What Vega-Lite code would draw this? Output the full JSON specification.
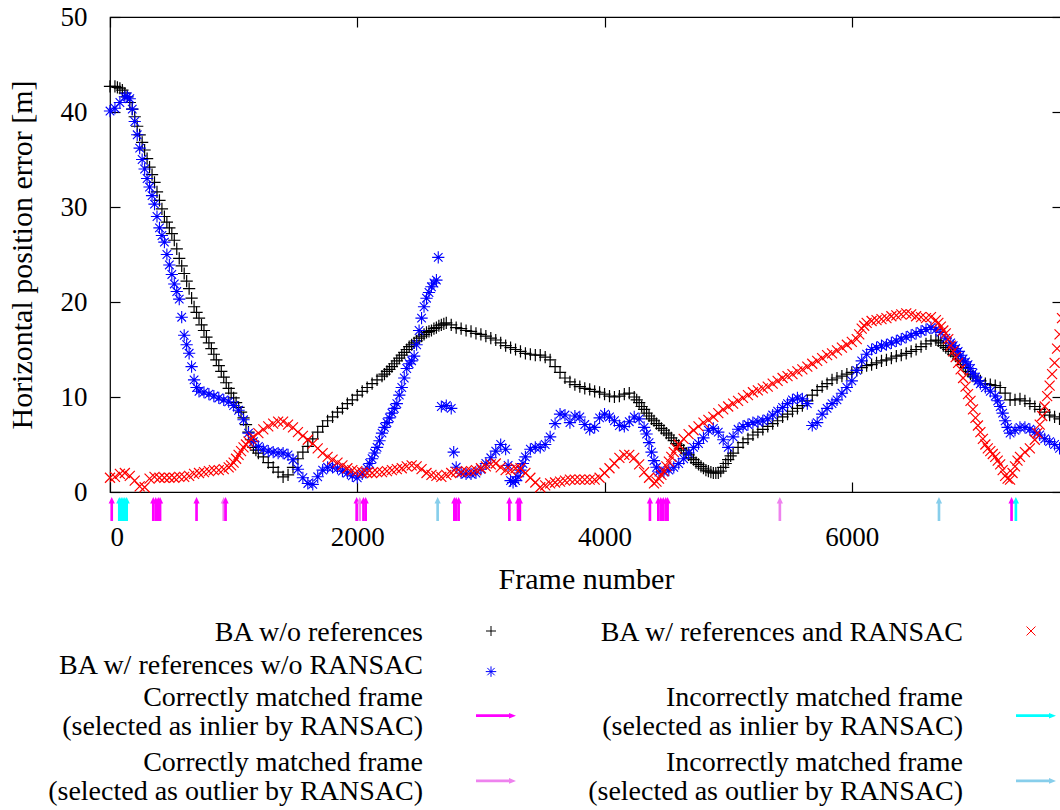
{
"$schema": "https://vega.github.io/schema/vega-lite/v6.json",
"autosize": {"type": "none"},
"padding": {"left": 110, "top": 17, "right": 0, "bottom": 318},
"width": 952,
"height": 475,
"background": "white",
"config": {
  "font": "Liberation Serif",
  "view": {"stroke": "black", "strokeWidth": 1.2},
  "axis": {"labelFont": "Liberation Serif", "titleFont": "Liberation Serif", "labelColor": "black", "titleColor": "black", "tickColor": "black", "domain": false, "grid": false, "labelFontSize": 27, "titleFontSize": 30, "titleFontWeight": "normal", "tickSize": -10, "tickWidth": 1.2}
},
"datasets": {
"black": [
{"frame":0,"error":42.7},{"frame":40,"error":42.7},{"frame":80,"error":42.5},{"frame":120,"error":42.0},{"frame":160,"error":41.0},{"frame":200,"error":39.5},{"frame":240,"error":37.6},{"frame":280,"error":36.0},{"frame":320,"error":34.2},{"frame":360,"error":32.6},{"frame":400,"error":30.7},{"frame":440,"error":29.0},{"frame":480,"error":27.8},{"frame":520,"error":26.5},{"frame":560,"error":24.6},{"frame":600,"error":23.0},{"frame":640,"error":21.4},{"frame":680,"error":19.5},{"frame":720,"error":18.3},{"frame":760,"error":17.0},{"frame":800,"error":15.7},{"frame":840,"error":14.5},{"frame":880,"error":13.3},{"frame":920,"error":12.1},{"frame":960,"error":10.9},{"frame":1000,"error":9.9},{"frame":1040,"error":8.9},{"frame":1080,"error":7.8},{"frame":1120,"error":6.3},{"frame":1160,"error":4.7},{"frame":1200,"error":4.1},{"frame":1240,"error":3.7},{"frame":1280,"error":3.1},{"frame":1320,"error":2.6},{"frame":1360,"error":2.1},{"frame":1400,"error":1.6},{"frame":1440,"error":1.8},{"frame":1480,"error":2.6},{"frame":1520,"error":3.5},{"frame":1560,"error":4.2},{"frame":1600,"error":4.8},{"frame":1640,"error":5.6},{"frame":1680,"error":6.3},{"frame":1720,"error":6.9},{"frame":1760,"error":7.5},{"frame":1800,"error":7.9},{"frame":1840,"error":8.4},{"frame":1880,"error":8.8},{"frame":1920,"error":9.3},{"frame":1960,"error":9.7},{"frame":2000,"error":10.2},{"frame":2040,"error":10.6},{"frame":2080,"error":11.0},{"frame":2120,"error":11.4},{"frame":2160,"error":11.8},{"frame":2200,"error":12.2},{"frame":2240,"error":12.7},{"frame":2280,"error":13.2},{"frame":2320,"error":13.8},{"frame":2360,"error":14.4},{"frame":2400,"error":15.0},{"frame":2440,"error":15.5},{"frame":2480,"error":15.9},{"frame":2520,"error":16.4},{"frame":2560,"error":16.8},{"frame":2600,"error":17.0},{"frame":2640,"error":17.3},{"frame":2680,"error":17.6},{"frame":2720,"error":17.8},{"frame":2760,"error":17.6},{"frame":2800,"error":17.3},{"frame":2840,"error":17.2},{"frame":2880,"error":17.0},{"frame":2920,"error":16.9},{"frame":2960,"error":16.7},{"frame":3000,"error":16.6},{"frame":3040,"error":16.4},{"frame":3080,"error":16.2},{"frame":3120,"error":16.0},{"frame":3160,"error":15.7},{"frame":3200,"error":15.4},{"frame":3240,"error":15.2},{"frame":3280,"error":15.0},{"frame":3320,"error":14.8},{"frame":3360,"error":14.6},{"frame":3400,"error":14.5},{"frame":3440,"error":14.4},{"frame":3480,"error":14.4},{"frame":3520,"error":14.2},{"frame":3560,"error":13.9},{"frame":3600,"error":13.2},{"frame":3640,"error":12.6},{"frame":3680,"error":12.0},{"frame":3720,"error":11.6},{"frame":3760,"error":11.3},{"frame":3800,"error":11.1},{"frame":3840,"error":10.9},{"frame":3880,"error":10.8},{"frame":3920,"error":10.6},{"frame":3960,"error":10.5},{"frame":4000,"error":10.3},{"frame":4040,"error":10.1},{"frame":4080,"error":10.0},{"frame":4120,"error":10.1},{"frame":4160,"error":10.3},{"frame":4200,"error":10.4},{"frame":4240,"error":10.0},{"frame":4280,"error":9.4},{"frame":4320,"error":8.7},{"frame":4360,"error":8.0},{"frame":4400,"error":7.5},{"frame":4440,"error":7.0},{"frame":4480,"error":6.5},{"frame":4520,"error":6.0},{"frame":4560,"error":5.4},{"frame":4600,"error":4.9},{"frame":4640,"error":4.4},{"frame":4680,"error":3.9},{"frame":4720,"error":3.4},{"frame":4760,"error":2.9},{"frame":4800,"error":2.5},{"frame":4840,"error":2.2},{"frame":4880,"error":2.0},{"frame":4920,"error":2.0},{"frame":4960,"error":2.6},{"frame":5000,"error":3.4},{"frame":5040,"error":4.1},{"frame":5080,"error":4.7},{"frame":5120,"error":5.2},{"frame":5160,"error":5.6},{"frame":5200,"error":6.0},{"frame":5240,"error":6.3},{"frame":5280,"error":6.6},{"frame":5320,"error":6.9},{"frame":5360,"error":7.2},{"frame":5400,"error":7.5},{"frame":5440,"error":7.9},{"frame":5480,"error":8.2},{"frame":5520,"error":8.5},{"frame":5560,"error":8.8},{"frame":5600,"error":9.1},{"frame":5640,"error":9.6},{"frame":5680,"error":10.2},{"frame":5720,"error":10.7},{"frame":5760,"error":11.1},{"frame":5800,"error":11.4},{"frame":5840,"error":11.8},{"frame":5880,"error":12.0},{"frame":5920,"error":12.2},{"frame":5960,"error":12.4},{"frame":6000,"error":12.6},{"frame":6040,"error":12.8},{"frame":6080,"error":13.1},{"frame":6120,"error":13.3},{"frame":6160,"error":13.4},{"frame":6200,"error":13.6},{"frame":6240,"error":13.8},{"frame":6280,"error":13.9},{"frame":6320,"error":14.1},{"frame":6360,"error":14.3},{"frame":6400,"error":14.4},{"frame":6440,"error":14.6},{"frame":6480,"error":14.8},{"frame":6520,"error":15.0},{"frame":6560,"error":15.3},{"frame":6600,"error":15.6},{"frame":6640,"error":15.9},{"frame":6680,"error":16.0},{"frame":6720,"error":15.7},{"frame":6760,"error":15.2},{"frame":6800,"error":14.8},{"frame":6840,"error":14.3},{"frame":6880,"error":13.8},{"frame":6920,"error":13.1},{"frame":6960,"error":12.4},{"frame":7000,"error":12.0},{"frame":7040,"error":11.7},{"frame":7080,"error":11.4},{"frame":7120,"error":11.3},{"frame":7160,"error":11.2},{"frame":7200,"error":11.0},{"frame":7240,"error":10.4},{"frame":7280,"error":9.7},{"frame":7320,"error":9.7},{"frame":7360,"error":9.8},{"frame":7400,"error":9.6},{"frame":7440,"error":9.3},{"frame":7480,"error":9.0},{"frame":7520,"error":8.7},{"frame":7560,"error":8.4},{"frame":7600,"error":8.1},{"frame":7640,"error":7.9},{"frame":7680,"error":7.7},
{"frame":60,"error":42.6},{"frame":100,"error":42.3},{"frame":140,"error":41.6},{"frame":180,"error":40.3},{"frame":220,"error":38.5},{"frame":260,"error":36.8},{"frame":300,"error":35.1},{"frame":340,"error":33.4},{"frame":380,"error":31.6},{"frame":420,"error":29.8},{"frame":460,"error":28.4},{"frame":500,"error":27.2},{"frame":540,"error":25.6},{"frame":580,"error":23.8},{"frame":620,"error":22.2},{"frame":660,"error":20.4},{"frame":700,"error":18.9},{"frame":740,"error":17.6},{"frame":780,"error":16.3},{"frame":820,"error":15.1},{"frame":860,"error":13.9},{"frame":900,"error":12.7},{"frame":940,"error":11.5},{"frame":980,"error":10.4},{"frame":1020,"error":9.4},{"frame":1060,"error":8.4},{"frame":1100,"error":7.1},{"frame":1140,"error":5.5},{"frame":1180,"error":4.4},
{"frame":2220,"error":12.4},{"frame":2260,"error":12.9},{"frame":2300,"error":13.5},{"frame":2340,"error":14.1},{"frame":2380,"error":14.7},{"frame":2420,"error":15.3},{"frame":2460,"error":15.7},{"frame":2500,"error":16.2},{"frame":2540,"error":16.6},{"frame":2580,"error":16.9},{"frame":2620,"error":17.2},{"frame":2660,"error":17.5},{"frame":2700,"error":17.7},
{"frame":4260,"error":9.7},{"frame":4300,"error":9.0},{"frame":4340,"error":8.3},{"frame":4380,"error":7.7},{"frame":4420,"error":7.2},{"frame":4460,"error":6.7},{"frame":4500,"error":6.2},{"frame":4540,"error":5.7},{"frame":4580,"error":5.1},{"frame":4620,"error":4.6},{"frame":4660,"error":4.1},{"frame":4700,"error":3.6},{"frame":4740,"error":3.1},{"frame":4780,"error":2.7},{"frame":4820,"error":2.3},{"frame":4860,"error":2.1},{"frame":4900,"error":2.0},{"frame":4940,"error":2.2},{"frame":4980,"error":3.0},{"frame":5020,"error":3.8},
{"frame":6700,"error":15.9},{"frame":6740,"error":15.4},{"frame":6780,"error":15.0},{"frame":6820,"error":14.5},{"frame":6860,"error":14.0},{"frame":6900,"error":13.4},{"frame":6940,"error":12.7},{"frame":6980,"error":12.2}
],
"blue": [
{"frame":0,"error":40.1},{"frame":40,"error":40.4},{"frame":80,"error":41.0},{"frame":120,"error":41.6},{"frame":160,"error":41.4},{"frame":200,"error":39.0},{"frame":240,"error":36.2},{"frame":280,"error":34.0},{"frame":320,"error":32.1},{"frame":360,"error":30.3},{"frame":400,"error":27.8},{"frame":440,"error":26.3},{"frame":480,"error":23.9},{"frame":520,"error":21.9},{"frame":560,"error":20.3},{"frame":600,"error":16.5},{"frame":640,"error":14.6},{"frame":680,"error":11.8},{"frame":720,"error":10.6},{"frame":760,"error":10.5},{"frame":800,"error":10.3},{"frame":840,"error":10.1},{"frame":880,"error":9.9},{"frame":920,"error":9.7},{"frame":960,"error":9.5},{"frame":1000,"error":9.1},{"frame":1040,"error":8.6},{"frame":1080,"error":7.6},{"frame":1120,"error":6.2},{"frame":1160,"error":5.3},{"frame":1200,"error":4.8},{"frame":1240,"error":4.5},{"frame":1280,"error":4.3},{"frame":1320,"error":4.2},{"frame":1360,"error":4.1},{"frame":1400,"error":4.1},{"frame":1440,"error":3.9},{"frame":1480,"error":3.4},{"frame":1520,"error":2.4},{"frame":1560,"error":1.5},{"frame":1600,"error":0.9},{"frame":1640,"error":0.8},{"frame":1680,"error":1.6},{"frame":1720,"error":2.3},{"frame":1760,"error":2.6},{"frame":1800,"error":2.6},{"frame":1840,"error":2.5},{"frame":1880,"error":2.2},{"frame":1920,"error":2.0},{"frame":1960,"error":1.7},{"frame":2000,"error":1.5},{"frame":2040,"error":1.9},{"frame":2080,"error":2.5},{"frame":2120,"error":3.5},{"frame":2160,"error":4.7},{"frame":2200,"error":6.2},{"frame":2240,"error":7.3},{"frame":2280,"error":8.3},{"frame":2320,"error":9.3},{"frame":2360,"error":11.0},{"frame":2400,"error":13.0},{"frame":2440,"error":13.8},{"frame":2480,"error":15.5},{"frame":2520,"error":18.3},{"frame":2560,"error":20.4},{"frame":2600,"error":21.6},{"frame":2640,"error":22.3},{"frame":2655,"error":24.7},{"frame":2680,"error":9.0},{"frame":2720,"error":9.1},{"frame":2760,"error":8.8},{"frame":2780,"error":4.2},{"frame":2800,"error":2.6},{"frame":2840,"error":2.0},{"frame":2880,"error":1.9},{"frame":2920,"error":1.9},{"frame":2960,"error":2.0},{"frame":3000,"error":2.4},{"frame":3040,"error":3.0},{"frame":3080,"error":3.6},{"frame":3120,"error":4.3},{"frame":3160,"error":5.0},{"frame":3200,"error":4.5},{"frame":3240,"error":1.2},{"frame":3280,"error":1.2},{"frame":3320,"error":2.3},{"frame":3360,"error":3.7},{"frame":3400,"error":4.5},{"frame":3440,"error":4.7},{"frame":3480,"error":4.7},{"frame":3520,"error":5.0},{"frame":3560,"error":5.8},{"frame":3600,"error":7.2},{"frame":3640,"error":8.2},{"frame":3680,"error":8.1},{"frame":3720,"error":7.3},{"frame":3760,"error":8.0},{"frame":3800,"error":7.9},{"frame":3840,"error":7.1},{"frame":3880,"error":6.6},{"frame":3920,"error":6.8},{"frame":3960,"error":7.8},{"frame":4000,"error":8.2},{"frame":4040,"error":7.9},{"frame":4080,"error":7.5},{"frame":4120,"error":7.0},{"frame":4160,"error":6.9},{"frame":4200,"error":7.4},{"frame":4240,"error":7.9},{"frame":4280,"error":7.7},{"frame":4320,"error":6.8},{"frame":4360,"error":5.2},{"frame":4400,"error":3.3},{"frame":4440,"error":2.1},{"frame":4480,"error":2.1},{"frame":4520,"error":2.3},{"frame":4560,"error":2.6},{"frame":4600,"error":3.0},{"frame":4640,"error":3.5},{"frame":4680,"error":4.1},{"frame":4720,"error":4.7},{"frame":4760,"error":5.1},{"frame":4800,"error":5.7},{"frame":4840,"error":6.5},{"frame":4880,"error":6.7},{"frame":4920,"error":6.3},{"frame":4960,"error":5.5},{"frame":5000,"error":4.7},{"frame":5040,"error":5.8},{"frame":5080,"error":6.6},{"frame":5120,"error":6.9},{"frame":5160,"error":7.1},{"frame":5200,"error":7.3},{"frame":5240,"error":7.4},{"frame":5280,"error":7.5},{"frame":5320,"error":7.7},{"frame":5360,"error":8.1},{"frame":5400,"error":8.5},{"frame":5440,"error":8.9},{"frame":5480,"error":9.3},{"frame":5520,"error":9.7},{"frame":5560,"error":9.9},{"frame":5600,"error":9.8},{"frame":5640,"error":9.3},{"frame":5680,"error":7.0},{"frame":5720,"error":7.3},{"frame":5760,"error":8.2},{"frame":5800,"error":8.8},{"frame":5840,"error":9.3},{"frame":5880,"error":9.7},{"frame":5920,"error":10.4},{"frame":5960,"error":11.0},{"frame":6000,"error":11.7},{"frame":6040,"error":12.8},{"frame":6080,"error":13.8},{"frame":6120,"error":14.5},{"frame":6160,"error":15.0},{"frame":6200,"error":15.2},{"frame":6240,"error":15.4},{"frame":6280,"error":15.5},{"frame":6320,"error":15.7},{"frame":6360,"error":15.9},{"frame":6400,"error":16.1},{"frame":6440,"error":16.3},{"frame":6480,"error":16.5},{"frame":6520,"error":16.7},{"frame":6560,"error":16.9},{"frame":6600,"error":17.1},{"frame":6640,"error":17.3},{"frame":6680,"error":17.1},{"frame":6720,"error":16.8},{"frame":6760,"error":16.2},{"frame":6800,"error":15.7},{"frame":6840,"error":15.1},{"frame":6880,"error":14.4},{"frame":6920,"error":13.7},{"frame":6960,"error":13.0},{"frame":7000,"error":12.1},{"frame":7040,"error":11.4},{"frame":7080,"error":11.0},{"frame":7120,"error":10.6},{"frame":7160,"error":10.1},{"frame":7200,"error":9.0},{"frame":7240,"error":7.5},{"frame":7280,"error":6.2},{"frame":7320,"error":6.5},{"frame":7360,"error":6.8},{"frame":7400,"error":6.8},{"frame":7440,"error":6.6},{"frame":7480,"error":6.3},{"frame":7520,"error":6.0},{"frame":7560,"error":5.6},{"frame":7600,"error":5.3},{"frame":7640,"error":5.0},{"frame":7680,"error":4.6},
{"frame":140,"error":41.6},{"frame":180,"error":40.3},{"frame":220,"error":37.6},{"frame":260,"error":35.0},{"frame":300,"error":33.0},{"frame":340,"error":31.2},{"frame":380,"error":29.0},{"frame":420,"error":27.0},{"frame":460,"error":25.0},{"frame":500,"error":22.9},{"frame":540,"error":21.1},{"frame":580,"error":18.4},{"frame":620,"error":15.5},{"frame":660,"error":13.2},{"frame":700,"error":11.0},
{"frame":2100,"error":3.0},{"frame":2140,"error":4.1},{"frame":2180,"error":5.4},{"frame":2220,"error":6.8},{"frame":2260,"error":7.8},{"frame":2300,"error":8.8},{"frame":2340,"error":10.2},{"frame":2380,"error":12.0},{"frame":2420,"error":13.5},{"frame":2460,"error":14.3},{"frame":2500,"error":17.0},{"frame":2540,"error":19.5},{"frame":2580,"error":21.0},{"frame":2620,"error":22.0},
{"frame":3220,"error":2.8},{"frame":3260,"error":1.0},{"frame":3300,"error":1.6},{"frame":3340,"error":3.0},
{"frame":4340,"error":6.1},{"frame":4380,"error":4.2},{"frame":4420,"error":2.6},
{"frame":6820,"error":15.4},{"frame":6860,"error":14.8},{"frame":6900,"error":14.0},{"frame":6940,"error":13.4},{"frame":6980,"error":12.5},{"frame":7020,"error":11.7},{"frame":7180,"error":9.6},{"frame":7220,"error":8.3},{"frame":7260,"error":6.8}
],
"red": [
{"frame":0,"error":1.5},{"frame":40,"error":1.6},{"frame":80,"error":1.9},{"frame":120,"error":2.0},{"frame":160,"error":1.7},{"frame":200,"error":1.2},{"frame":240,"error":0.6},{"frame":280,"error":0.5},{"frame":320,"error":1.4},{"frame":360,"error":1.6},{"frame":400,"error":1.5},{"frame":440,"error":1.5},{"frame":480,"error":1.5},{"frame":520,"error":1.5},{"frame":560,"error":1.6},{"frame":600,"error":1.6},{"frame":640,"error":1.7},{"frame":680,"error":1.9},{"frame":720,"error":2.0},{"frame":760,"error":2.1},{"frame":800,"error":2.2},{"frame":840,"error":2.3},{"frame":880,"error":2.3},{"frame":920,"error":2.4},{"frame":960,"error":2.6},{"frame":1000,"error":3.1},{"frame":1040,"error":3.9},{"frame":1080,"error":4.7},{"frame":1120,"error":5.3},{"frame":1160,"error":5.8},{"frame":1200,"error":6.2},{"frame":1240,"error":6.6},{"frame":1280,"error":6.9},{"frame":1320,"error":7.2},{"frame":1360,"error":7.4},{"frame":1400,"error":7.4},{"frame":1440,"error":7.1},{"frame":1480,"error":6.8},{"frame":1520,"error":6.3},{"frame":1560,"error":5.9},{"frame":1600,"error":5.5},{"frame":1640,"error":5.1},{"frame":1680,"error":4.6},{"frame":1720,"error":4.1},{"frame":1760,"error":3.7},{"frame":1800,"error":3.4},{"frame":1840,"error":3.1},{"frame":1880,"error":2.8},{"frame":1920,"error":2.5},{"frame":1960,"error":2.3},{"frame":2000,"error":2.2},{"frame":2040,"error":2.1},{"frame":2080,"error":2.0},{"frame":2120,"error":2.0},{"frame":2160,"error":2.1},{"frame":2200,"error":2.1},{"frame":2240,"error":2.2},{"frame":2280,"error":2.3},{"frame":2320,"error":2.4},{"frame":2360,"error":2.5},{"frame":2400,"error":2.7},{"frame":2440,"error":2.8},{"frame":2480,"error":2.7},{"frame":2520,"error":2.4},{"frame":2560,"error":2.0},{"frame":2600,"error":1.8},{"frame":2640,"error":1.7},{"frame":2680,"error":1.6},{"frame":2720,"error":1.8},{"frame":2760,"error":2.0},{"frame":2800,"error":2.1},{"frame":2840,"error":2.1},{"frame":2880,"error":2.2},{"frame":2920,"error":2.2},{"frame":2960,"error":2.3},{"frame":3000,"error":2.5},{"frame":3040,"error":2.7},{"frame":3080,"error":2.9},{"frame":3120,"error":3.0},{"frame":3160,"error":2.6},{"frame":3200,"error":2.3},{"frame":3240,"error":2.3},{"frame":3280,"error":2.5},{"frame":3320,"error":2.5},{"frame":3360,"error":2.0},{"frame":3400,"error":1.5},{"frame":3440,"error":1.0},{"frame":3480,"error":0.5},{"frame":3520,"error":0.7},{"frame":3560,"error":0.9},{"frame":3600,"error":1.0},{"frame":3640,"error":1.1},{"frame":3680,"error":1.2},{"frame":3720,"error":1.3},{"frame":3760,"error":1.3},{"frame":3800,"error":1.3},{"frame":3840,"error":1.3},{"frame":3880,"error":1.3},{"frame":3920,"error":1.3},{"frame":3960,"error":1.5},{"frame":4000,"error":2.0},{"frame":4040,"error":2.5},{"frame":4080,"error":3.0},{"frame":4120,"error":3.6},{"frame":4160,"error":3.9},{"frame":4200,"error":3.9},{"frame":4240,"error":3.6},{"frame":4280,"error":2.9},{"frame":4320,"error":2.1},{"frame":4360,"error":1.5},{"frame":4400,"error":0.9},{"frame":4440,"error":1.4},{"frame":4480,"error":2.2},{"frame":4520,"error":3.2},{"frame":4560,"error":4.2},{"frame":4600,"error":5.0},{"frame":4640,"error":5.6},{"frame":4680,"error":6.1},{"frame":4720,"error":6.5},{"frame":4760,"error":6.9},{"frame":4800,"error":7.3},{"frame":4840,"error":7.6},{"frame":4880,"error":7.9},{"frame":4920,"error":8.3},{"frame":4960,"error":8.7},{"frame":5000,"error":9.0},{"frame":5040,"error":9.3},{"frame":5080,"error":9.6},{"frame":5120,"error":9.9},{"frame":5160,"error":10.2},{"frame":5200,"error":10.5},{"frame":5240,"error":10.7},{"frame":5280,"error":10.9},{"frame":5320,"error":11.1},{"frame":5360,"error":11.4},{"frame":5400,"error":11.7},{"frame":5440,"error":12.0},{"frame":5480,"error":12.2},{"frame":5520,"error":12.4},{"frame":5560,"error":12.7},{"frame":5600,"error":12.9},{"frame":5640,"error":13.2},{"frame":5680,"error":13.5},{"frame":5720,"error":13.8},{"frame":5760,"error":14.1},{"frame":5800,"error":14.4},{"frame":5840,"error":14.6},{"frame":5880,"error":14.9},{"frame":5920,"error":15.2},{"frame":5960,"error":15.5},{"frame":6000,"error":15.8},{"frame":6040,"error":16.1},{"frame":6080,"error":17.2},{"frame":6120,"error":17.8},{"frame":6160,"error":18.0},{"frame":6200,"error":18.1},{"frame":6240,"error":18.2},{"frame":6280,"error":18.3},{"frame":6320,"error":18.5},{"frame":6360,"error":18.6},{"frame":6400,"error":18.7},{"frame":6440,"error":18.8},{"frame":6480,"error":18.7},{"frame":6520,"error":18.5},{"frame":6560,"error":18.4},{"frame":6600,"error":18.3},{"frame":6640,"error":18.4},{"frame":6680,"error":18.1},{"frame":6720,"error":17.4},{"frame":6760,"error":16.7},{"frame":6800,"error":15.4},{"frame":6840,"error":14.2},{"frame":6880,"error":12.9},{"frame":6920,"error":11.1},{"frame":6960,"error":9.6},{"frame":7000,"error":7.8},{"frame":7040,"error":6.3},{"frame":7080,"error":5.0},{"frame":7120,"error":4.3},{"frame":7160,"error":3.7},{"frame":7200,"error":2.9},{"frame":7240,"error":1.7},{"frame":7280,"error":1.3},{"frame":7320,"error":2.7},{"frame":7360,"error":3.7},{"frame":7400,"error":4.2},{"frame":7440,"error":4.6},{"frame":7480,"error":5.5},{"frame":7520,"error":7.1},{"frame":7560,"error":9.0},{"frame":7600,"error":11.2},{"frame":7640,"error":13.6},{"frame":7680,"error":16.6},{"frame":7700,"error":18.3},
{"frame":980,"error":2.8},{"frame":1020,"error":3.5},{"frame":1060,"error":4.3},{"frame":1100,"error":5.0},{"frame":1140,"error":5.6},
{"frame":4420,"error":1.1},{"frame":4460,"error":1.8},{"frame":4500,"error":2.7},{"frame":4540,"error":3.7},{"frame":4580,"error":4.6},
{"frame":6060,"error":16.6},{"frame":6100,"error":17.5},
{"frame":6700,"error":17.8},{"frame":6740,"error":17.0},{"frame":6780,"error":16.1},{"frame":6820,"error":14.8},{"frame":6860,"error":13.6},{"frame":6900,"error":12.0},{"frame":6940,"error":10.3},{"frame":6980,"error":8.7},{"frame":7020,"error":7.0},{"frame":7060,"error":5.6},{"frame":7100,"error":4.6},{"frame":7140,"error":4.0},{"frame":7180,"error":3.3},{"frame":7220,"error":2.3},{"frame":7260,"error":1.4},{"frame":7300,"error":2.0},{"frame":7340,"error":3.3},
{"frame":7500,"error":6.2},{"frame":7540,"error":8.0},{"frame":7580,"error":10.1},{"frame":7620,"error":12.4},{"frame":7660,"error":15.1}
],
"arrows": [
{"frame":14,"kind":"ci"},{"frame":75,"kind":"ii"},{"frame":90,"kind":"ii"},{"frame":105,"kind":"ii"},{"frame":120,"kind":"ii"},{"frame":135,"kind":"ii"},{"frame":350,"kind":"ci"},{"frame":370,"kind":"ci"},{"frame":390,"kind":"ci"},{"frame":405,"kind":"ci"},{"frame":700,"kind":"ci"},{"frame":920,"kind":"co"},{"frame":935,"kind":"ci"},{"frame":1995,"kind":"ci"},{"frame":2020,"kind":"co"},{"frame":2050,"kind":"ci"},{"frame":2068,"kind":"ci"},{"frame":2650,"kind":"io"},{"frame":2785,"kind":"ci"},{"frame":2800,"kind":"ci"},{"frame":2820,"kind":"ci"},{"frame":3230,"kind":"ci"},{"frame":3300,"kind":"ci"},{"frame":3315,"kind":"ci"},{"frame":4367,"kind":"ci"},{"frame":4435,"kind":"ci"},{"frame":4455,"kind":"ci"},{"frame":4475,"kind":"ci"},{"frame":4495,"kind":"ci"},{"frame":4510,"kind":"ci"},{"frame":5418,"kind":"co"},{"frame":6705,"kind":"io"},{"frame":7292,"kind":"ci"},{"frame":7327,"kind":"ii"}
],
"legtext": [
{"t":"BA w/o references","c":"L","ln":"1"},
{"t":"BA w/ references and RANSAC","c":"R","ln":"1"},
{"t":"BA w/ references w/o RANSAC","c":"L","ln":"2"},
{"t":"Correctly matched frame\n(selected as inlier by RANSAC)","c":"L","ln":"3"},
{"t":"Incorrectly matched frame\n(selected as inlier by RANSAC)","c":"R","ln":"3"},
{"t":"Correctly matched frame\n(selected as outlier by RANSAC)","c":"L","ln":"5"},
{"t":"Incorrectly matched frame\n(selected as outlier by RANSAC)","c":"R","ln":"5"}
],
"legsym": [
{"kind":"plus","c":"L","ln":"1"},{"kind":"cross","c":"R","ln":"1"},{"kind":"star","c":"L","ln":"2"},{"kind":"ci","c":"L","ln":"3"},{"kind":"ii","c":"R","ln":"3"},{"kind":"co","c":"L","ln":"5"},{"kind":"io","c":"R","ln":"5"}
]
},
"layer": [
{
"resolve": {"axis": {"x": "independent", "y": "independent"}},
"layer": [
{
"data": {"name": "black"},
"mark": {"type": "point", "shape": "M-1,0L1,0M0,-1L0,1", "size": 150, "filled": false, "color": "black", "strokeWidth": 1.2, "opacity": 1},
"encoding": {
"x": {"field": "frame", "type": "quantitative", "scale": {"domain": [0, 7700], "nice": false, "zero": false}, "axis": {"orient": "bottom", "values": [0, 2000, 4000, 6000], "format": "d", "labelPadding": 42, "title": "Frame number", "titlePadding": 14, "labelFont": "Liberation Serif", "titleFont": "Liberation Serif"}},
"y": {"field": "error", "type": "quantitative", "scale": {"domain": [0, 50], "nice": false}, "axis": {"orient": "left", "values": [0, 10, 20, 30, 40, 50], "labelPadding": 33, "title": "Horizontal position error [m]", "titlePadding": 23, "labelFont": "Liberation Serif", "titleFont": "Liberation Serif"}}
}
},
{
"data": {"name": "black"},
"mark": {"type": "point", "opacity": 0},
"encoding": {
"x": {"field": "frame", "type": "quantitative", "scale": {"domain": [0, 7700], "nice": false, "zero": false}, "axis": {"orient": "top", "values": [0, 2000, 4000, 6000], "labels": false, "title": null}},
"y": {"field": "error", "type": "quantitative", "scale": {"domain": [0, 50], "nice": false}, "axis": {"orient": "right", "values": [0, 10, 20, 30, 40, 50], "labels": false, "title": null}}
}
},
{
"data": {"name": "blue"},
"mark": {"type": "point", "shape": "M-1,0L1,0M0,-1L0,1M-0.7,-0.7L0.7,0.7M-0.7,0.7L0.7,-0.7", "size": 150, "filled": false, "color": "#0000ff", "strokeWidth": 1.1, "opacity": 1},
"encoding": {
"x": {"field": "frame", "type": "quantitative", "scale": {"domain": [0, 7700], "nice": false, "zero": false}, "axis": null},
"y": {"field": "error", "type": "quantitative", "scale": {"domain": [0, 50], "nice": false}, "axis": null}
}
},
{
"data": {"name": "red"},
"mark": {"type": "point", "shape": "M-1,-1L1,1M-1,1L1,-1", "size": 100, "filled": false, "color": "#ff0000", "strokeWidth": 1.2, "opacity": 1},
"encoding": {
"x": {"field": "frame", "type": "quantitative", "scale": {"domain": [0, 7700], "nice": false, "zero": false}, "axis": null},
"y": {"field": "error", "type": "quantitative", "scale": {"domain": [0, 50], "nice": false}, "axis": null}
}
},
{
"data": {"name": "arrows"},
"mark": {"type": "point", "shape": "M-0.11,1L-0.11,-0.45L-0.26,-0.45L0,-1L0.26,-0.45L0.11,-0.45L0.11,1Z", "size": 576, "filled": true, "opacity": 1, "strokeWidth": 0},
"encoding": {
"x": {"field": "frame", "type": "quantitative", "scale": {"domain": [0, 7700], "nice": false, "zero": false}, "axis": null},
"y": {"datum": -1.79, "type": "quantitative", "scale": {"domain": [0, 50], "nice": false}, "axis": null},
"color": {"field": "kind", "type": "nominal", "scale": {"domain": ["ci", "ii", "co", "io"], "range": ["#ff00ff", "#00ffff", "#ee82ee", "#87ceeb"]}, "legend": null}
}
}
]
},
{
"layer": [
{
"data": {"name": "legtext"},
"mark": {"type": "text", "align": "right", "baseline": "alphabetic", "fontSize": 28, "font": "Liberation Serif", "lineBreak": "\n", "lineHeight": 29, "color": "black"},
"encoding": {
"x": {"field": "c", "type": "nominal", "scale": {"type": "point", "domain": ["L", "R"], "range": [313, 853], "padding": 0}, "axis": null},
"y": {"field": "ln", "type": "nominal", "scale": {"type": "point", "domain": ["1", "2", "3", "4", "5", "6"], "range": [624, 787], "padding": 0}, "axis": null},
"text": {"field": "t", "type": "nominal"}
}
},
{
"data": {"name": "legsym"},
"transform": [{"filter": "datum.kind == 'plus'"}],
"mark": {"type": "point", "shape": "M-1,0L1,0M0,-1L0,1", "size": 100, "filled": false, "color": "black", "strokeWidth": 1, "opacity": 1, "xOffset": 68, "yOffset": -10},
"encoding": {
"x": {"field": "c", "type": "nominal", "scale": {"type": "point", "domain": ["L", "R"], "range": [313, 853], "padding": 0}, "axis": null},
"y": {"field": "ln", "type": "nominal", "scale": {"type": "point", "domain": ["1", "2", "3", "4", "5", "6"], "range": [624, 787], "padding": 0}, "axis": null}
}
},
{
"data": {"name": "legsym"},
"transform": [{"filter": "datum.kind == 'cross'"}],
"mark": {"type": "point", "shape": "M-1,-1L1,1M-1,1L1,-1", "size": 80, "filled": false, "color": "#ff0000", "strokeWidth": 1, "opacity": 1, "xOffset": 68, "yOffset": -10},
"encoding": {
"x": {"field": "c", "type": "nominal", "scale": {"type": "point", "domain": ["L", "R"], "range": [313, 853], "padding": 0}, "axis": null},
"y": {"field": "ln", "type": "nominal", "scale": {"type": "point", "domain": ["1", "2", "3", "4", "5", "6"], "range": [624, 787], "padding": 0}, "axis": null}
}
},
{
"data": {"name": "legsym"},
"transform": [{"filter": "datum.kind == 'star'"}],
"mark": {"type": "point", "shape": "M-1,0L1,0M0,-1L0,1M-0.7,-0.7L0.7,0.7M-0.7,0.7L0.7,-0.7", "size": 110, "filled": false, "color": "#0000ff", "strokeWidth": 1, "opacity": 1, "xOffset": 68, "yOffset": -2},
"encoding": {
"x": {"field": "c", "type": "nominal", "scale": {"type": "point", "domain": ["L", "R"], "range": [313, 853], "padding": 0}, "axis": null},
"y": {"field": "ln", "type": "nominal", "scale": {"type": "point", "domain": ["1", "2", "3", "4", "5", "6"], "range": [624, 787], "padding": 0}, "axis": null}
}
},
{
"data": {"name": "legsym"},
"transform": [{"filter": "datum.kind == 'ci' || datum.kind == 'ii' || datum.kind == 'co' || datum.kind == 'io'"}],
"mark": {"type": "point", "shape": "M-1,-0.07L0.65,-0.07L0.65,-0.14L1,0L0.65,0.14L0.65,0.07L-1,0.07Z", "size": 1600, "filled": true, "opacity": 1, "strokeWidth": 0, "xOffset": 73, "yOffset": 9.5},
"encoding": {
"x": {"field": "c", "type": "nominal", "scale": {"type": "point", "domain": ["L", "R"], "range": [313, 853], "padding": 0}, "axis": null},
"y": {"field": "ln", "type": "nominal", "scale": {"type": "point", "domain": ["1", "2", "3", "4", "5", "6"], "range": [624, 787], "padding": 0}, "axis": null},
"color": {"field": "kind", "type": "nominal", "scale": {"domain": ["ci", "ii", "co", "io"], "range": ["#ff00ff", "#00ffff", "#ee82ee", "#87ceeb"]}, "legend": null}
}
}
]
}
],
"resolve": {"scale": {"x": "independent", "y": "independent"}, "axis": {"x": "independent", "y": "independent"}}
}
